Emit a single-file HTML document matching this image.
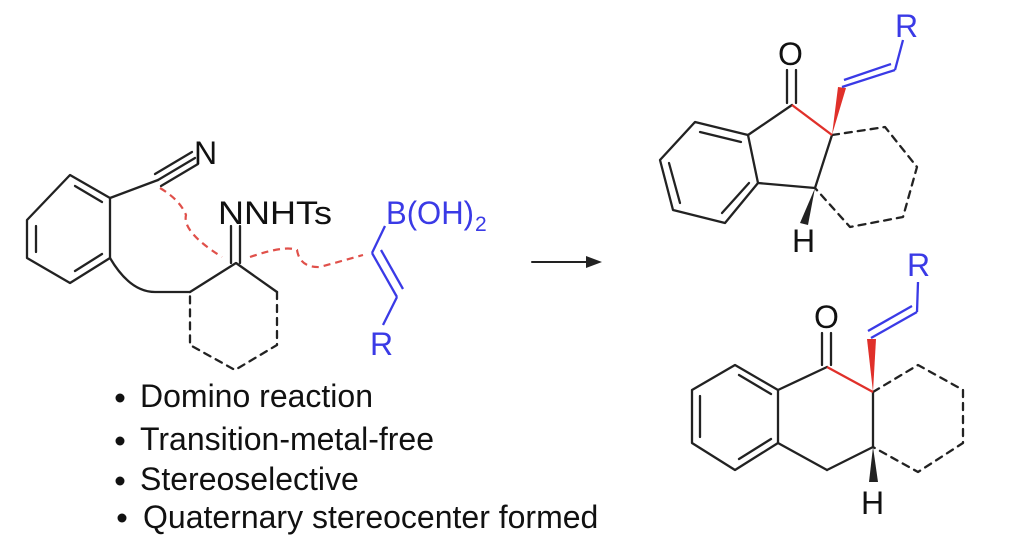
<!DOCTYPE html>
<html><head><style>
html,body{margin:0;padding:0;background:#fff;width:1024px;height:542px;overflow:hidden}
svg{display:block}
text{font-family:"Liberation Sans",Arial,sans-serif}
</style></head><body>
<svg width="1024" height="542" viewBox="0 0 1024 542" xmlns="http://www.w3.org/2000/svg">
<g stroke="#222" stroke-width="2.3" fill="none" stroke-linecap="round" stroke-linejoin="round">
 <polygon points="70,175 110,198 110,258 70,283 27,258 27,220"/>
 <line x1="75" y1="186" x2="102" y2="202"/>
 <line x1="102" y1="254" x2="75" y2="271"/>
 <line x1="36" y1="226" x2="36" y2="252"/>
 <line x1="110" y1="198" x2="158" y2="180"/>
 <line x1="158" y1="180" x2="195" y2="158"/>
 <line x1="155" y1="174" x2="192" y2="152"/>
 <line x1="161" y1="186" x2="198" y2="164"/>
 <path d="M110,258 Q130,292 155,292 L190,292"/>
 <polyline points="190,292 236,263 277,292"/>
 <g stroke-dasharray="7,6">
  <polyline points="277,292 277,345 235,370 190,345 190,292"/>
 </g>
 <line x1="231" y1="263" x2="231" y2="226"/>
 <line x1="240" y1="263" x2="240" y2="226"/>
 <!-- product 1 -->
 <polygon points="695,122 748,135 758,183 725,223 673,210 660,160"/>
 <line x1="700" y1="132" x2="741" y2="142"/>
 <line x1="749" y1="183" x2="722" y2="213"/>
 <line x1="669" y1="163" x2="680" y2="203"/>
 <line x1="748" y1="135" x2="792" y2="105"/>
 <line x1="758" y1="183" x2="815" y2="188"/>
 <line x1="815" y1="188" x2="832" y2="135"/>
 <line x1="787" y1="103" x2="787" y2="70"/>
 <line x1="796" y1="103" x2="796" y2="70"/>
 <g stroke-dasharray="7,6"><polyline points="832,135 885,127 917,167 903,217 850,227 815,188"/></g>
 <!-- product 2 -->
 <polygon points="735,365 778,390 778,443 735,470 692,443 692,390"/>
 <line x1="739" y1="375" x2="771" y2="394"/>
 <line x1="771" y1="439" x2="739" y2="459"/>
 <line x1="700" y1="396" x2="700" y2="437"/>
 <line x1="778" y1="390" x2="827" y2="367"/>
 <line x1="778" y1="443" x2="827" y2="470"/>
 <line x1="827" y1="470" x2="873" y2="447"/>
 <line x1="873" y1="447" x2="873" y2="392"/>
 <line x1="822" y1="365" x2="822" y2="333"/>
 <line x1="831" y1="365" x2="831" y2="333"/>
 <g stroke-dasharray="7,6"><polyline points="873,392 918,365 963,390 963,443 918,472 873,447"/></g>
 <line x1="532" y1="262" x2="590" y2="262" stroke-width="2"/>
</g>
<polygon points="602,262 586,256 586,268" fill="#222"/>
<path d="M160,188 Q180,200 186,215 Q182,232 222,257 M250,257 Q285,245 297,250 Q300,268 320,267 L363,255" stroke="#e0504a" stroke-width="2.2" fill="none" stroke-dasharray="7,5"/>
<g stroke="#e0302a" stroke-width="2.3" fill="none">
 <line x1="792" y1="105" x2="832" y2="135"/>
 <line x1="827" y1="367" x2="873" y2="392"/>
</g>
<polygon points="832,135 838,87 846,88" fill="#e0302a"/>
<polygon points="873,392 867,339 876,339" fill="#e0302a"/>
<polygon points="815,188 808,225 800,223" fill="#222"/>
<polygon points="873,447 869,482 878,482" fill="#222"/>
<g stroke="#3a3ae6" stroke-width="2.3" fill="none">
 <line x1="372" y1="253" x2="385" y2="226"/>
 <line x1="372" y1="253" x2="397" y2="297"/>
 <line x1="381" y1="250" x2="403" y2="289"/>
 <line x1="397" y1="297" x2="383" y2="325"/>
 <line x1="842" y1="87" x2="895" y2="70"/>
 <line x1="844" y1="80" x2="891" y2="64"/>
 <line x1="895" y1="70" x2="903" y2="40"/>
 <line x1="871" y1="338" x2="917" y2="312"/>
 <line x1="868" y1="331" x2="912" y2="306"/>
 <line x1="917" y1="312" x2="918" y2="282"/>
</g>
<g font-size="32">
<text x="194" y="164" fill="#111">N</text>
<text x="218" y="224" fill="#111" textLength="114" lengthAdjust="spacingAndGlyphs">NNHTs</text>
<text x="386" y="224" fill="#3a3ae6" textLength="88" lengthAdjust="spacingAndGlyphs">B(OH)</text>
<text x="475" y="231" font-size="21" fill="#3a3ae6">2</text>
<text x="370" y="355" fill="#3a3ae6">R</text>
<text x="778" y="65" fill="#111">O</text>
<text x="895" y="37" fill="#3a3ae6">R</text>
<text x="792" y="252" fill="#111">H</text>
<text x="814" y="328" fill="#111">O</text>
<text x="907" y="276" fill="#3a3ae6">R</text>
<text x="861" y="514" fill="#111">H</text>
</g>
<g font-size="32" fill="#111">
 <circle cx="120" cy="398" r="4.5"/><text x="140" y="407">Domino reaction</text>
 <circle cx="120" cy="441" r="4.5"/><text x="140" y="450">Transition-metal-free</text>
 <circle cx="120" cy="481" r="4.5"/><text x="140" y="490">Stereoselective</text>
 <circle cx="122" cy="518" r="4.5"/><text x="143" y="528">Quaternary stereocenter formed</text>
</g>
</svg>
</body></html>
